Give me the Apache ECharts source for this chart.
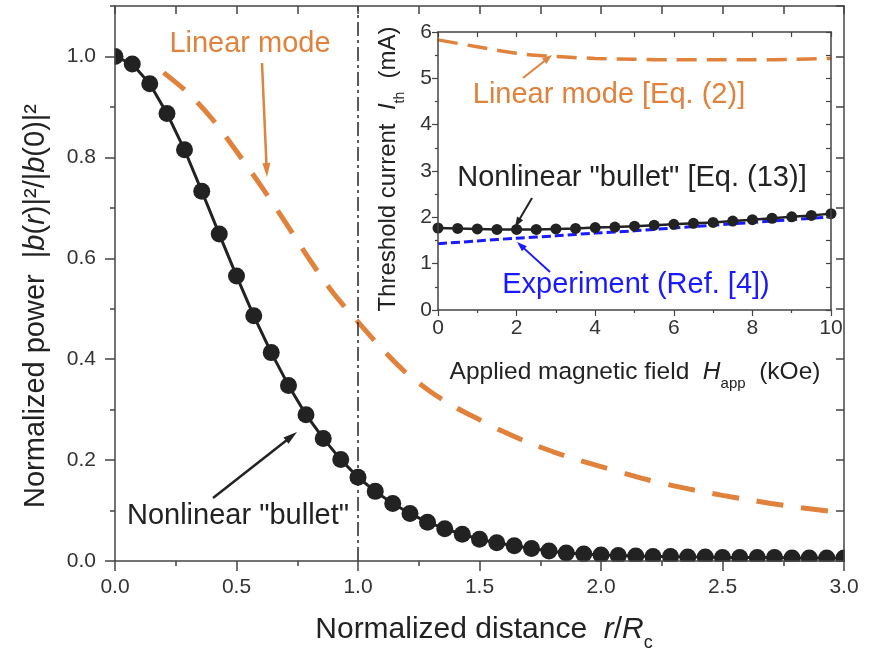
<!DOCTYPE html>
<html>
<head>
<meta charset="utf-8">
<script src="https://cdn.jsdelivr.net/npm/echarts@6/dist/echarts.min.js"></script>
<style>html,body{margin:0;padding:0;background:#fff}#c{width:870px;height:648px}</style>
</head>
<body>
<div id="c"></div>
<script>
// ---- Main panel data ----
const bulletX = [0.000,0.071,0.143,0.214,0.286,0.357,0.429,0.500,0.571,0.643,0.714,0.786,0.857,0.929,
  1.000,1.071,1.143,1.214,1.286,1.357,1.429,1.500,1.571,1.643,1.714,1.786,1.857,1.929,
  2.000,2.071,2.143,2.214,2.286,2.357,2.429,2.500,2.571,2.643,2.714,2.786,2.857,2.929,3.000];
const bulletY = [1.000,0.985,0.946,0.887,0.815,0.733,0.648,0.565,0.486,0.413,0.348,0.290,0.243,0.201,
  0.166,0.138,0.114,0.094,0.077,0.064,0.053,0.043,0.036,0.030,0.025,0.020,0.016,0.014,
  0.012,0.011,0.010,0.009,0.009,0.008,0.008,0.007,0.007,0.007,0.007,0.006,0.006,0.006,0.006];
const linearX = [0.2,0.3,0.4,0.5,0.6,0.7,0.8,0.9,1.0,1.1,1.2,1.3,1.4,1.5,1.6,1.7,1.8,1.9,
  2.0,2.1,2.2,2.3,2.4,2.5,2.6,2.7,2.8,2.9,3.0];
const linearY = [0.968,0.928,0.876,0.812,0.744,0.672,0.598,0.530,0.474,0.420,0.372,0.335,
  0.305,0.280,0.256,0.235,0.217,0.201,0.187,0.173,0.160,0.149,0.139,0.130,0.122,0.114,0.107,0.101,0.095];
const boundaryX = [1.0, 1.0];
const boundaryY = [0.0, 1.1];

// ---- Inset data ----
const fieldBullet = [0,0.5,1,1.5,2,2.5,3,3.5,4,4.5,5,5.5,6,6.5,7,7.5,8,8.5,9,9.5,10];
const currentBullet = [1.77,1.76,1.75,1.74,1.74,1.74,1.75,1.76,1.78,1.79,1.81,1.83,1.85,1.87,1.89,1.92,1.95,1.98,2.01,2.04,2.08];
const fieldLinear = [0,1,2,3,4,5,6,7,8,9,10];
const currentLinear = [5.83,5.68,5.54,5.47,5.43,5.41,5.40,5.40,5.40,5.41,5.43];
const fieldExp = [0,1,2,3,4,5,6,7,8,9,10];
const currentExp = [1.43,1.49,1.55,1.60,1.66,1.71,1.77,1.83,1.89,1.95,2.01];

const zip = (a, b) => a.map((v, i) => [v, b[i]]);
const FF = "'Liberation Sans', Arial, Helvetica, sans-serif";
const AX = '#444';
const ORANGE = '#E0823C';
const BLUE = '#1a1aff';
const DARK = '#222';

function axisBase(extra) {
  return Object.assign({
    type: 'value', z: 10,
    splitLine: { show: false },
    axisLine: { show: true, onZero: false, lineStyle: { color: AX, width: 1.5 } },
    axisTick: { show: true, lineStyle: { color: AX, width: 1.5 } },
  }, extra);
}
function arrow(x1, y1, x2, y2, color, w, hl, hw) {
  const a = Math.atan2(y2 - y1, x2 - x1);
  const bx = x2 - hl * Math.cos(a), by = y2 - hl * Math.sin(a);
  const px = -Math.sin(a) * hw / 2, py = Math.cos(a) * hw / 2;
  return [
    { type: 'line', z: 100, shape: { x1: x1, y1: y1, x2: bx + Math.cos(a) * 2, y2: by + Math.sin(a) * 2 }, style: { stroke: color, lineWidth: w } },
    { type: 'polygon', z: 100, shape: { points: [[x2, y2], [bx + px, by + py], [bx - px, by - py]] }, style: { fill: color } }
  ];
}
function label(text, x, y, color, size) {
  return { type: 'text', z: 100, x: x, y: y, style: { text: text, fill: color, fontSize: size, fontFamily: FF, align: 'center', verticalAlign: 'middle' } };
}
function rich(size, color) {
  return {
    n: { fontSize: size, fontFamily: FF, fill: color, color: color, lineHeight: size + 14, verticalAlign: 'middle' },
    i: { fontSize: size, fontFamily: FF, fontStyle: 'italic', fill: color, color: color, lineHeight: size + 14, verticalAlign: 'middle' },
    s: { fontSize: Math.round(size * 0.6), fontFamily: FF, fill: color, color: color, lineHeight: 12, verticalAlign: 'bottom' }
  };
}
function richText(text, x, y, size, color, rot) {
  return { type: 'text', z: 100, x: x, y: y, rotation: rot || 0,
    style: { text: text, rich: rich(size, color), fill: color, fontSize: size, fontFamily: FF, align: 'center', verticalAlign: 'middle' } };
}
function mask(x, y, w, h) {
  return { type: 'rect', z: 8, silent: true, shape: { x: x, y: y, width: w, height: h }, style: { fill: '#fff' } };
}

const chart = echarts.init(document.getElementById('c'), null, { renderer: 'canvas' });
const graphics = [].concat(
  // white strips just outside the main plot frame so marks look clipped at the frame
  mask(96, 0, 18.6, 580),
  mask(96, 561.8, 770, 20),
  mask(844.8, 0, 25, 580),
  label('Linear mode', 250, 44, ORANGE, 29),
  arrow(262, 63, 267, 177, ORANGE, 2.5, 14, 8),
  label('Nonlinear "bullet"', 238, 516, DARK, 29),
  arrow(213, 498, 297, 432, DARK, 2.5, 14, 8),
  label('Linear mode [Eq. (2)]', 609, 95, ORANGE, 29),
  arrow(523, 78, 552, 55, ORANGE, 2, 10, 7),
  label('Nonlinear "bullet" [Eq. (13)]', 632, 178, DARK, 29),
  arrow(532, 198, 515, 227, DARK, 2, 10, 7),
  label('Experiment (Ref. [4])', 636, 285, BLUE, 29),
  arrow(550, 272, 517, 242, BLUE, 2, 10, 7),
  richText('{n|Normalized distance  }{i|r}{n|/}{i|R}{s|c}', 484, 630, 30, DARK, 0),
  richText('{n|Normalized power  |}{i|b}{n|(}{i|r}{n|)|²/|}{i|b}{n|(0)|²}', 36, 306, 29, DARK, Math.PI / 2),
  richText('{n|Applied magnetic field  }{i|H}{s|app}{n|  (kOe)}', 635, 372, 24.5, DARK, 0),
  richText('{n|Threshold current  }{i|I}{s|th}{n|  (mA)}', 388, 169, 24, DARK, Math.PI / 2)
);

const option = {
  animation: false,
  backgroundColor: '#fff',
  grid: [
    { left: 115, top: 6, right: 26, bottom: 87 },
    { left: 438, top: 32, width: 393, height: 278 }
  ],
  xAxis: [
    axisBase({ gridIndex: 0, min: 0, max: 3, interval: 0.5, position: 'bottom',
      axisTick: { show: true, length: 10, lineStyle: { color: AX, width: 1.5 } },
      minorTick: { show: true, splitNumber: 2, length: 5, lineStyle: { color: AX, width: 1.5 } },
      axisLabel: { margin: 16, fontSize: 21, color: '#333', fontFamily: FF, formatter: v => v.toFixed(1) } }),
    axisBase({ gridIndex: 0, min: 0, max: 3, interval: 0.25, position: 'top',
      axisTick: { show: true, inside: true, length: 8, lineStyle: { color: AX, width: 1.5 } },
      axisLabel: { show: false } }),
    axisBase({ gridIndex: 1, min: 0, max: 10, interval: 2, position: 'bottom',
      axisTick: { show: true, length: 6, lineStyle: { color: AX, width: 1.2 } },
      minorTick: { show: true, splitNumber: 2, length: 3, lineStyle: { color: AX, width: 1.2 } },
      axisLabel: { margin: 8, fontSize: 21, color: '#333', fontFamily: FF } }),
    axisBase({ gridIndex: 1, min: 0, max: 10, interval: 1, position: 'top',
      axisTick: { show: true, inside: true, length: 5, lineStyle: { color: AX, width: 1.2 } },
      axisLabel: { show: false } })
  ],
  yAxis: [
    axisBase({ gridIndex: 0, min: 0, max: 1.1, interval: 0.2, position: 'left',
      axisTick: { show: true, length: 10, lineStyle: { color: AX, width: 1.5 } },
      axisLabel: { margin: 19, fontSize: 21, color: '#333', fontFamily: FF, showMaxLabel: false,
        formatter: v => (Math.abs(v - 1.1) < 1e-6 ? '' : v.toFixed(1)) } }),
    axisBase({ gridIndex: 0, min: 0, max: 1.1, interval: 0.1, position: 'left',
      axisLine: { show: false },
      axisTick: { show: true, length: 5, lineStyle: { color: AX, width: 1.5 } },
      axisLabel: { show: false } }),
    axisBase({ gridIndex: 0, min: 0, max: 1.1, interval: 0.1, position: 'right',
      axisTick: { show: true, inside: true, length: 8, lineStyle: { color: AX, width: 1.5 } },
      axisLabel: { show: false } }),
    axisBase({ gridIndex: 1, min: 0, max: 6, interval: 1, position: 'left',
      axisTick: { show: true, length: 6, lineStyle: { color: AX, width: 1.2 } },
      minorTick: { show: true, splitNumber: 2, length: 3, lineStyle: { color: AX, width: 1.2 } },
      axisLabel: { margin: 6, fontSize: 21, color: '#333', fontFamily: FF } }),
    axisBase({ gridIndex: 1, min: 0, max: 6, interval: 0.5, position: 'right',
      axisTick: { show: true, inside: true, length: 5, lineStyle: { color: AX, width: 1.2 } },
      axisLabel: { show: false } })
  ],
  series: [
    { name: 'Linear mode', type: 'line', xAxisIndex: 0, yAxisIndex: 0, data: zip(linearX, linearY),
      smooth: 0.3, symbol: 'none', z: 2, lineStyle: { color: ORANGE, width: 5, type: [27, 18] } },
    { name: 'Nonlinear bullet', type: 'line', xAxisIndex: 0, yAxisIndex: 0, data: zip(bulletX, bulletY),
      symbol: 'circle', symbolSize: 17, showAllSymbol: true, clip: false, z: 4,
      lineStyle: { color: DARK, width: 3 }, itemStyle: { color: DARK } },
    { name: 'Boundary', type: 'line', xAxisIndex: 0, yAxisIndex: 0, data: zip(boundaryX, boundaryY),
      symbol: 'none', z: 3, lineStyle: { color: '#333', width: 1.6, type: [14, 4, 3, 4] } },
    { name: 'Linear mode Eq2', type: 'line', xAxisIndex: 2, yAxisIndex: 3, data: zip(fieldLinear, currentLinear),
      smooth: 0.3, symbol: 'none', z: 5, lineStyle: { color: ORANGE, width: 3.5, type: [20, 10] } },
    { name: 'Experiment', type: 'line', xAxisIndex: 2, yAxisIndex: 3, data: zip(fieldExp, currentExp),
      smooth: 0.3, symbol: 'none', z: 5, lineStyle: { color: BLUE, width: 3, type: [9, 4] } },
    { name: 'Bullet Eq13', type: 'line', xAxisIndex: 2, yAxisIndex: 3, data: zip(fieldBullet, currentBullet),
      symbol: 'circle', symbolSize: 11, showAllSymbol: true, z: 6,
      lineStyle: { color: DARK, width: 2.5 }, itemStyle: { color: DARK } }
  ],
  graphic: graphics
};
chart.setOption(option);
</script>
</body>
</html>
